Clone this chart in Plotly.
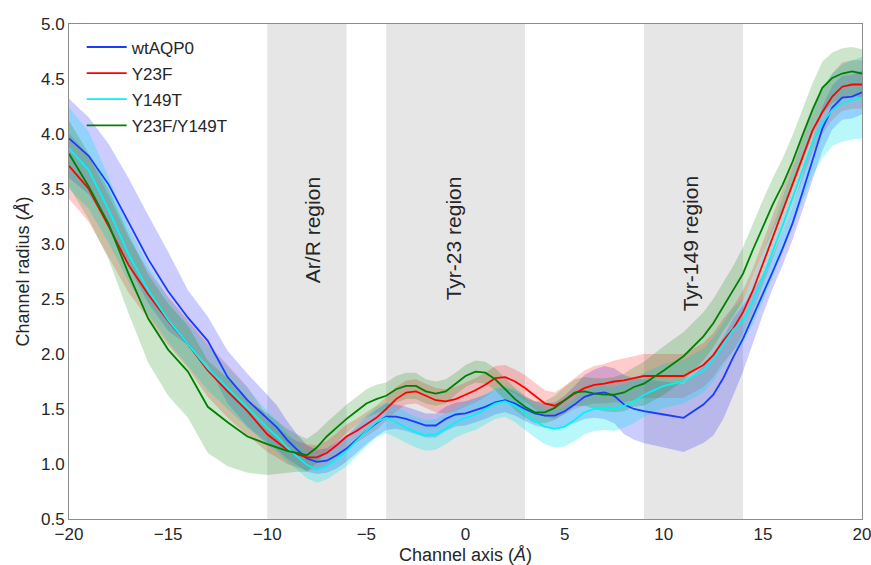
import plotly.graph_objects as go

# Channel axis positions (Å)
x = [-20, -19, -18, -17, -16, -15, -14, -13, -12, -11, -10,
     -9.5, -9, -8.5, -8, -7.5, -7, -6.5, -6, -5.5, -5, -4.5, -4, -3.5, -3, -2.5, -2, -1.5, -1, -0.5,
     0, 0.5, 1, 1.5, 2, 2.5, 3, 3.5, 4, 4.5, 5, 5.5, 6, 6.5, 7, 7.5, 8, 8.5, 9,
     10, 11, 12,
     12.5, 13, 13.5, 14, 14.5, 15, 15.5, 16, 16.5, 17, 17.5, 18, 18.5, 19, 19.5, 20]

wt_mean = [3.96, 3.80, 3.54, 3.20, 2.86, 2.57, 2.33, 2.12, 1.79, 1.58, 1.41,
           1.33, 1.22, 1.13, 1.05, 1.02, 1.03, 1.08, 1.14, 1.22, 1.30, 1.37, 1.43, 1.43, 1.41, 1.38, 1.35, 1.35, 1.41, 1.45,
           1.46, 1.49, 1.52, 1.56, 1.58, 1.55, 1.50, 1.46, 1.44, 1.44, 1.48, 1.54, 1.61, 1.64, 1.65, 1.62, 1.54, 1.50, 1.48,
           1.45, 1.42, 1.54,
           1.63, 1.78, 1.97, 2.14, 2.34, 2.54, 2.75, 2.96, 3.19, 3.47, 3.77, 4.05, 4.24, 4.33, 4.34, 4.38]
wt_std = [0.36, 0.35, 0.37, 0.40, 0.40, 0.36, 0.25, 0.22, 0.24, 0.24, 0.22,
          0.20, 0.17, 0.14, 0.12, 0.11, 0.11, 0.12, 0.12, 0.12, 0.12, 0.12, 0.12, 0.11, 0.11, 0.11, 0.11, 0.11, 0.11, 0.11,
          0.11, 0.11, 0.11, 0.11, 0.11, 0.11, 0.11, 0.11, 0.11, 0.12, 0.14, 0.17, 0.20, 0.22, 0.24, 0.25, 0.27, 0.28, 0.29,
          0.30, 0.31, 0.35,
          0.37, 0.37, 0.35, 0.30, 0.24, 0.18, 0.15, 0.15, 0.15, 0.16, 0.18, 0.20, 0.20, 0.20, 0.20, 0.20]

y23f_mean = [3.71, 3.50, 3.16, 2.81, 2.54, 2.30, 2.09, 1.85, 1.66, 1.48, 1.27,
             1.20, 1.13, 1.09, 1.06, 1.06, 1.10, 1.17, 1.25, 1.30, 1.36, 1.42, 1.50, 1.59, 1.65, 1.66, 1.62, 1.58, 1.57, 1.59,
             1.63, 1.67, 1.72, 1.78, 1.79, 1.75, 1.69, 1.62, 1.55, 1.53, 1.58, 1.64, 1.69, 1.72, 1.73, 1.75, 1.76, 1.78, 1.80,
             1.80, 1.80, 1.90,
             1.99, 2.12, 2.23, 2.38, 2.58, 2.82, 3.06, 3.30, 3.54, 3.79, 4.03, 4.20, 4.34, 4.43, 4.45, 4.45]
y23f_std = [0.30, 0.30, 0.28, 0.25, 0.22, 0.22, 0.22, 0.24, 0.24, 0.22, 0.16,
            0.14, 0.13, 0.12, 0.12, 0.11, 0.11, 0.11, 0.11, 0.11, 0.11, 0.11, 0.11, 0.11, 0.11, 0.11, 0.11, 0.11, 0.11, 0.11,
            0.11, 0.11, 0.11, 0.11, 0.11, 0.11, 0.12, 0.12, 0.12, 0.12, 0.13, 0.14, 0.16, 0.17, 0.18, 0.19, 0.20, 0.20, 0.20,
            0.20, 0.20, 0.20,
            0.20, 0.20, 0.20, 0.20, 0.20, 0.20, 0.20, 0.20, 0.20, 0.20, 0.20, 0.20, 0.21, 0.22, 0.22, 0.22]

y149t_mean = [3.87, 3.67, 3.31, 2.91, 2.58, 2.31, 2.09, 1.87, 1.69, 1.51, 1.33,
              1.25, 1.15, 1.07, 0.99, 0.95, 0.98, 1.05, 1.12, 1.21, 1.30, 1.38, 1.42, 1.38, 1.33, 1.29, 1.26, 1.27, 1.32, 1.38,
              1.42, 1.45, 1.50, 1.55, 1.57, 1.53, 1.46, 1.39, 1.34, 1.32, 1.34, 1.40, 1.47, 1.50, 1.51, 1.50, 1.53, 1.57, 1.63,
              1.71, 1.75, 1.85,
              1.95, 2.09, 2.22, 2.30, 2.48, 2.70, 2.93, 3.17, 3.42, 3.67, 3.92, 4.10, 4.22, 4.28, 4.31, 4.33]
y149t_std = [0.37, 0.35, 0.30, 0.25, 0.22, 0.20, 0.20, 0.20, 0.19, 0.18, 0.15,
             0.14, 0.13, 0.12, 0.12, 0.12, 0.12, 0.13, 0.14, 0.14, 0.14, 0.14, 0.14, 0.14, 0.14, 0.14, 0.14, 0.14, 0.14, 0.14,
             0.14, 0.14, 0.14, 0.14, 0.14, 0.15, 0.15, 0.15, 0.16, 0.17, 0.18, 0.19, 0.20, 0.20, 0.20, 0.20, 0.20, 0.20, 0.20,
             0.20, 0.20, 0.20,
             0.20, 0.20, 0.20, 0.20, 0.21, 0.22, 0.23, 0.25, 0.26, 0.28, 0.30, 0.32, 0.33, 0.35, 0.36, 0.37]

dm_mean = [3.82, 3.52, 3.18, 2.73, 2.32, 2.04, 1.84, 1.52, 1.38, 1.25, 1.18,
           1.15, 1.12, 1.10, 1.08, 1.15, 1.25, 1.33, 1.41, 1.48, 1.55, 1.59, 1.62, 1.68, 1.71, 1.71, 1.66, 1.64, 1.66, 1.73,
           1.80, 1.84, 1.83, 1.77, 1.68, 1.59, 1.52, 1.47, 1.47, 1.51, 1.58, 1.65, 1.66, 1.64, 1.63, 1.63, 1.65, 1.70, 1.73,
           1.85, 1.98, 2.16,
           2.28, 2.43, 2.57, 2.73, 2.95, 3.16, 3.36, 3.54, 3.75, 3.99, 4.22, 4.42, 4.51, 4.55, 4.57, 4.55]
dm_std = [0.30, 0.30, 0.32, 0.36, 0.40, 0.42, 0.42, 0.42, 0.40, 0.33, 0.28,
          0.24, 0.20, 0.17, 0.15, 0.14, 0.13, 0.13, 0.13, 0.13, 0.13, 0.13, 0.12, 0.12, 0.12, 0.12, 0.11, 0.11, 0.11, 0.10,
          0.10, 0.10, 0.10, 0.10, 0.10, 0.10, 0.10, 0.10, 0.10, 0.11, 0.12, 0.12, 0.13, 0.14, 0.15, 0.16, 0.17, 0.18, 0.20,
          0.22, 0.22, 0.22,
          0.22, 0.22, 0.23, 0.24, 0.24, 0.24, 0.24, 0.24, 0.24, 0.24, 0.24, 0.24, 0.23, 0.23, 0.22, 0.22]

series_names = ["wtAQP0", "Y23F", "Y149T", "Y23F/Y149T"]
line_colors = ["#1a3cff", "#ff0000", "#00f5f5", "#008000"]
fill_colors = ["rgba(0,0,255,0.2)", "rgba(255,0,0,0.2)", "rgba(0,230,240,0.28)", "rgba(0,128,0,0.2)"]

regions = [(-10, -6), (-4, 3), (9, 14)]
region_labels = ["Ar/R region", "Tyr-23 region", "Tyr-149 region"]
region_label_x = [-7.72, -0.6, 11.33]
region_label_y = 3.63

x_ticks = [-20, -15, -10, -5, 0, 5, 10, 15, 20]
x_ticktext = ["\u221220", "\u221215", "\u221210", "\u22125", "0", "5", "10", "15", "20"]
y_ticks = [0.5, 1.0, 1.5, 2.0, 2.5, 3.0, 3.5, 4.0, 4.5, 5.0]
y_ticktext = ["0.5", "1.0", "1.5", "2.0", "2.5", "3.0", "3.5", "4.0", "4.5", "5.0"]

means = [wt_mean, y23f_mean, y149t_mean, dm_mean]
stds = [wt_std, y23f_std, y149t_std, dm_std]

fig = go.Figure()

for m, s, fc in zip(means, stds, fill_colors):
    upper = [a + b for a, b in zip(m, s)]
    lower = [a - b for a, b in zip(m, s)]
    fig.add_trace(go.Scatter(
        x=x + x[::-1], y=upper + lower[::-1], fill="toself", fillcolor=fc,
        line=dict(width=0), mode="lines", showlegend=False, hoverinfo="skip"))

for m, name, lc in zip(means, series_names, line_colors):
    fig.add_trace(go.Scatter(x=x, y=m, mode="lines", name=name, legendgroup=name,
                             line=dict(color=lc, width=1.8)))

shapes = []
for x0, x1 in regions:
    shapes.append(dict(type="rect", xref="x", yref="paper", x0=x0, x1=x1, y0=0, y1=1,
                       fillcolor="#e6e6e6", line=dict(width=0), layer="below"))

annotations = []
for lx, lab in zip(region_label_x, region_labels):
    annotations.append(dict(x=lx, y=region_label_y, xref="x", yref="y", text=lab,
                            showarrow=False, textangle=-90, xanchor="center", yanchor="top",
                            font=dict(size=21, color="#262626")))

font_family = "Liberation Sans, Arial, sans-serif"
fig.update_layout(
    width=871, height=565,
    margin=dict(l=69, r=9, t=24, b=46),
    paper_bgcolor="white", plot_bgcolor="white",
    font=dict(family=font_family, size=17, color="#262626"),
    shapes=shapes, annotations=annotations,
    legend=dict(x=0.016, y=0.989, xanchor="left", yanchor="top", bgcolor="rgba(0,0,0,0)",
                font=dict(size=17), tracegroupgap=1, itemwidth=40),
    showlegend=True,
)
fig.update_xaxes(range=[-20, 20], tickvals=x_ticks, ticktext=x_ticktext, showgrid=False,
                 zeroline=False, showline=True, linecolor="#8c8c8c", linewidth=1, mirror=True,
                 ticks="", tickfont=dict(size=17), automargin=False, ticklabeloverflow="allow",
                 title=dict(text="Channel axis (<i>Å</i>)", font=dict(size=18), standoff=4))
fig.update_yaxes(range=[0.5, 5.0], tickvals=y_ticks, ticktext=y_ticktext, showgrid=False,
                 zeroline=False, showline=True, linecolor="#8c8c8c", linewidth=1, mirror=True,
                 ticks="", tickfont=dict(size=17), automargin=False, ticklabeloverflow="allow",
                 title=dict(text="Channel radius (<i>Å</i>)", font=dict(size=18), standoff=6))

# remove the page's default body margin so the figure fills the window exactly
fig.write_html("out.html",
               config={"displayModeBar": False},
               post_script="document.body.style.margin='0';document.body.style.overflow='hidden';")
